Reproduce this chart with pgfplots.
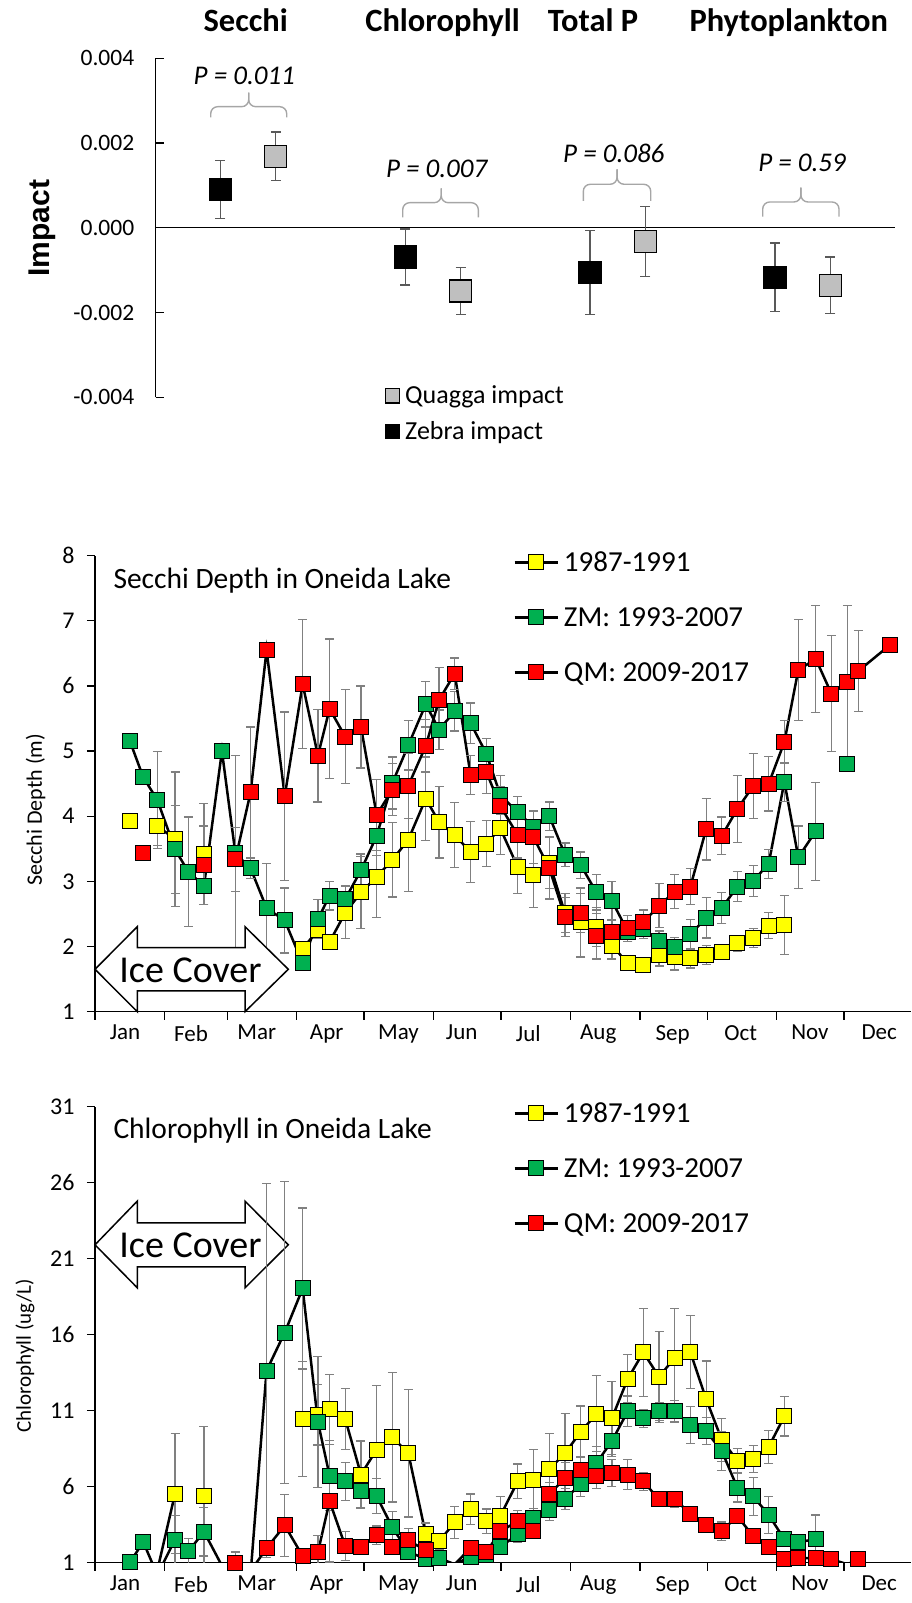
\documentclass[border=0pt]{standalone}
\usepackage{pgfplots}
\pgfplotsset{compat=1.18}
\usepackage{pgfplotstable}
\usepackage{fontspec}
\setmainfont{Carlito}
\newfontfamily\arialfont{Liberation Sans}
\definecolor{cy}{HTML}{FFFF00}
\definecolor{cg}{HTML}{00B050}
\definecolor{cr}{HTML}{FF0000}
\definecolor{eg}{HTML}{808080}
\definecolor{egd}{HTML}{595959}
\definecolor{qg}{HTML}{BFBFBF}
\definecolor{brc}{HTML}{A6A6A6}
\newcommand{\fs}[1]{\fontsize{#1}{#1}\selectfont}

\pgfplotstableread{
x y e
-0.15 0.000906 0.00068
0.85 -0.00069 0.00066
1.85 -0.00106 0.00099
2.85 -0.00117 0.00081
}\zebra
\pgfplotstableread{
x y e
0.15 0.00169 0.00057
1.15 -0.00149 0.00055
2.15 -0.00032 0.00083
3.15 -0.00136 0.00067
}\quagga

\pgfplotstableread{
x yy ye gy ge ry re
15.6 3.92 0.1 5.15 0.05 nan 0
21.5 nan 0 4.60 0.05 3.43 0.05
27.8 3.85 0.3 4.25 0.75 nan 0
35.7 3.65 1.03 3.49 0.67 nan 0
41.6 nan 0 3.15 0.84 nan 0
48.6 3.42 0.77 2.93 0.1 3.25 0.6
56.6 nan 0 5.00 0.05 nan 0
62.6 nan 0 3.43 1.5 3.34 0.49
69.4 nan 0 3.20 0.15 4.37 1.0
76.5 nan 0 2.59 0.69 6.55 0.05
84.6 nan 0 2.40 0.5 4.31 1.29
92.6 1.97 0.1 1.74 0.05 6.03 0.99
99.4 2.25 0.1 2.42 0.3 4.93 0.71
104.6 2.07 0.1 2.78 0.22 5.65 1.07
111.6 2.52 0.4 2.73 0.2 5.22 0.72
118.6 2.83 0.55 3.17 0.25 5.37 0.63
125.6 3.07 0.62 3.70 0.3 4.02 0.54
132.6 3.33 0.57 4.51 0.4 4.41 0.4
139.7 3.64 0.8 5.09 0.38 4.47 0.5
147.5 4.27 0.64 5.72 0.35 5.08 0.4
153.4 3.91 0.55 5.33 0.3 5.785 0.5
160.4 3.71 0.5 5.61 0.3 6.19 0.24
167.5 3.45 0.47 5.43 0.31 4.63 0.3
174.5 3.58 0.35 4.96 0.23 4.68 0.33
180.7 3.815 0.4 4.33 0.3 4.16 0.3
188.5 3.22 0.4 4.06 0.24 3.71 0.35
195.5 3.10 0.5 3.84 0.25 3.68 0.4
202.6 3.29 0.4 4.00 0.22 3.20 0.47
209.6 2.51 0.3 3.41 0.18 2.45 0.3
216.6 2.37 0.53 3.25 0.2 2.51 0.3
223.6 2.30 0.3 2.83 0.27 2.16 0.35
230.5 2.01 0.2 2.70 0.3 2.22 0.2
237.6 1.75 0.1 2.23 0.15 2.28 0.2
244.5 1.72 0.1 2.27 0.15 2.37 0.19
251.5 1.87 0.17 2.09 0.15 2.63 0.34
258.5 1.84 0.2 1.99 0.15 2.84 0.26
265.5 1.82 0.15 2.19 0.23 2.92 0.28
272.5 1.87 0.15 2.44 0.31 3.80 0.47
279.5 1.92 0.1 2.59 0.24 3.70 0.29
286.4 2.05 0.12 2.92 0.23 4.11 0.51
293.5 2.13 0.15 3.01 0.24 4.465 0.5
300.4 2.32 0.2 3.27 0.22 4.50 0.42
307.4 2.33 0.45 4.53 0.3 5.14 0.33
313.6 nan 0 3.37 0.48 6.245 0.77
321.4 nan 0 3.77 0.75 6.415 0.82
328.4 nan 0 nan 0 5.88 0.89
335.5 nan 0 4.80 0.05 6.06 1.17
340.4 nan 0 nan 0 6.23 0.62
354.5 nan 0 nan 0 6.63 0.05
}\secchi

\pgfplotstableread{
x yy ye gy ge ry re
15.6 nan 0 1.03 0.05 nan 0
21.5 nan 0 2.36 0.05 nan 0
27.8 0.5 0 0.2 0 nan 0
35.7 5.55 3.94 2.52 1.6 nan 0
41.6 nan 0 1.74 0.85 nan 0
48.6 5.37 4.58 3.04 1.6 nan 0
56.6 nan 0 0.8 0 nan 0
62.6 nan 0 0.2 0 1.0 0.7
69.4 nan 0 0.3 0 0.45 0
76.5 nan 0 13.64 12.3 1.95 0.2
84.6 nan 0 16.14 9.95 3.45 2.05
92.6 10.45 3.8 19.04 5.3 1.44 0.5
99.4 10.74 2.0 10.26 4.3 1.68 1.1
104.6 11.08 2.3 6.73 2.3 5.05 4.0
111.6 10.45 2.0 6.35 1.25 2.09 0.95
118.6 6.8 2.2 5.73 1.1 2.02 0.5
125.6 8.44 4.2 5.37 1.15 2.81 0.6
132.6 9.24 4.25 3.32 1.05 2.02 0.5
139.7 8.21 4.2 1.72 0.5 2.47 0.8
147.5 2.86 0.75 1.24 0.3 1.81 0.4
153.4 2.4 0.5 1.3 0.3 0.85 0
160.4 3.66 1.05 0.9 0 0.9 0
167.5 4.52 1.0 1.4 0.3 1.97 0.4
174.5 3.73 0.8 1.5 0.3 1.7 0.4
180.7 4.07 1.3 2.04 0.4 3.06 0.5
188.5 6.35 1.14 2.86 0.5 3.73 0.7
195.5 6.46 2.0 3.95 0.6 3.11 0.5
202.6 7.15 2.35 4.45 0.7 5.5 0.8
209.6 8.21 2.6 5.2 0.7 6.57 1.0
216.6 9.61 1.7 6.16 0.8 7.1 0.85
223.6 10.79 2.5 7.55 1.1 6.69 0.8
230.5 10.51 2.4 9.01 1.0 6.91 0.9
237.6 13.11 1.6 10.97 1.0 6.8 1.0
244.5 14.84 2.9 10.49 0.6 6.35 0.6
251.5 13.23 3.0 10.95 0.6 5.16 0.4
258.5 14.48 3.25 10.95 0.7 5.16 0.5
265.5 14.84 2.4 10.06 1.2 4.23 0.3
272.5 11.77 2.5 9.65 0.9 3.45 0.4
279.5 9.08 1.4 8.35 1.3 3.08 0.6
286.4 7.71 0.8 5.94 0.95 4.07 0.4
293.5 7.83 0.9 5.37 1.25 2.74 0.4
300.4 8.62 1.1 4.14 1.2 2.06 0.4
307.4 10.63 1.3 2.54 0.5 1.22 0.1
313.6 nan 0 2.36 0.5 1.3 0.1
321.4 nan 0 2.54 1.6 1.3 0.1
328.4 nan 0 nan 0 1.22 0.1
335.5 nan 0 nan 0 0.9 0
340.4 nan 0 nan 0 1.22 0.1
354.5 nan 0 nan 0 nan 0
}\chl

\newcommand{\series}[5]{%
  \addplot[black, line width=2.5pt, no markers, forget plot] table[x=x,y=#2]{#1};
  \addplot[only marks, mark=square*, mark size=7.5pt, mark options={fill=#4, draw=black, line width=1pt}, restrict y to domain=#5, forget plot, error bars/.cd, y dir=both, y explicit, error bar style={eg, line width=1.2pt}, error mark options={eg, line width=1.2pt, mark size=4.5pt, rotate=90}] table[x=x,y=#2,y error=#3]{#1};
}

\pgfplotsset{
  monthaxis/.style={
    scale only axis, anchor=south west, width=816.3pt, height=456pt,
    xmin=0, xmax=364,
    axis x line=bottom, axis y line=left, axis line style={-, line width=1.3pt},
    xtick={0,31,59,90,120,151,181,212,243,273,304,334}, xticklabels={},
    extra x ticks={13.4,42.8,72.1,103.3,135.3,163.5,193.2,224.4,257.6,287.9,318.8,349.7},
    extra x tick labels={Jan,Feb,Mar,Apr,May,Jun,Jul,Aug,Sep,Oct,Nov,Dec},
    extra x tick style={major tick length=0pt, xticklabel style={font=\fs{23}, yshift=-10pt}},
    tick align=outside, major tick length=8pt, tick style={black, line width=1.3pt},
    yticklabel style={font=\fs{24}, xshift=-9pt},
    unbounded coords=jump,
    legend style={draw=none, fill=none, inner sep=0pt, column sep=5pt, row sep=34pt, font=\fs{29}, nodes={inner sep=0pt, text height=20pt, text depth=1pt, anchor=west}},
    legend image code/.code={\draw[black, line width=2.5pt] (0pt,0pt) -- (43pt,0pt); \draw[##1] plot coordinates {(21.5pt,0pt)};},
    legend cell align=left,
  }
}

\begin{document}
\begin{tikzpicture}[x=1pt,y=1pt]
\useasboundingbox (0,0) rectangle (912,1603);

% ---------------- top panel ----------------
\begin{axis}[
  at={(155.7pt,1205.7pt)}, anchor=south west, scale only axis,
  width=739.3pt, height=339pt,
  xmin=-0.5, xmax=3.5, ymin=-0.004, ymax=0.004,
  axis x line=middle, axis y line=left, axis line style={-, line width=1.3pt},
  xtick=\empty,
  ytick={-0.004,-0.002,0,0.002,0.004},
  yticklabels={-0.004,-0.002,0.000,0.002,0.004},
  scaled y ticks=false,
  tick align=inside, major tick length=8pt, tick style={black, line width=1.3pt},
  yticklabel style={font=\fs{23.5}, xshift=-18pt},
  clip=false,
  legend style={at={(axis description cs:0.3102,0.0327)}, anchor=north west, draw=none, fill=none, inner sep=0pt, row sep=17.3pt, column sep=5.6pt, font=\fs{26}, nodes={inner sep=0pt, text height=17.5pt, text depth=1pt, anchor=west}},
  legend image code/.code={\draw[#1] plot coordinates {(7.5pt,0pt)};},
  legend cell align=left,
]
\addlegendimage{only marks, mark=square*, mark size=7.2pt, mark options={fill=qg, draw=black, line width=1.3pt}}
\addlegendentry{Quagga impact}
\addlegendimage{only marks, mark=square*, mark size=7.2pt, mark options={fill=black, draw=black, line width=1.3pt}}
\addlegendentry{Zebra impact}
\addplot[only marks, mark=square*, mark size=11pt, mark options={fill=black, draw=black, line width=1.3pt}, forget plot, error bars/.cd, y dir=both, y explicit, error bar style={egd, line width=1.3pt}, error mark options={egd, line width=1.3pt, mark size=5pt, rotate=90}] table[x=x,y=y,y error=e]{\zebra};
\addplot[only marks, mark=square*, mark size=11pt, mark options={fill=qg, draw=black, line width=1.3pt}, forget plot, error bars/.cd, y dir=both, y explicit, error bar style={egd, line width=1.3pt}, error mark options={egd, line width=1.3pt, mark size=5pt, rotate=90}] table[x=x,y=y,y error=e]{\quagga};
\end{axis}

% braces (annotation)
\begin{scope}[brc, line width=1.4pt, rounded corners=7pt]
\draw (210.7,1485.7) -- (210.7,1496.3) -- (248.7,1496.3) -- (248.7,1510.3);
\draw (286.7,1485.7) -- (286.7,1496.3) -- (248.7,1496.3) -- (248.7,1510.3);
\draw (402.7,1385.7) -- (402.7,1400.3) -- (441.2,1400.3) -- (441.2,1414.7);
\draw (478.3,1385.7) -- (478.3,1400.3) -- (441.2,1400.3) -- (441.2,1414.7);
\draw (583.3,1402) -- (583.3,1418.7) -- (617.1,1418.7) -- (617.1,1433.7);
\draw (650.7,1402) -- (650.7,1418.7) -- (617.1,1418.7) -- (617.1,1433.7);
\draw (762.7,1386.3) -- (762.7,1401) -- (800.9,1401) -- (800.9,1415.3);
\draw (839,1386.3) -- (839,1401) -- (800.9,1401) -- (800.9,1415.3);
\end{scope}

\node[anchor=base, font=\bfseries\fs{32.5}] at (245.7,1571.3) {Secchi};
\node[anchor=base, font=\bfseries\fs{32.5}] at (442.5,1571.3) {Chlorophyll};
\node[anchor=base, font=\bfseries\fs{32.5}] at (593,1571.3) {Total P};
\node[anchor=base, font=\bfseries\fs{32.5}] at (788.7,1571.3) {Phytoplankton};
\node[font=\itshape\fs{27}] at (244.3,1526.8) {P = 0.011};
\node[font=\itshape\fs{27}] at (436.7,1433.8) {P = 0.007};
\node[font=\itshape\fs{27}] at (613.8,1449.2) {P = 0.086};
\node[font=\itshape\fs{27}] at (802,1440.2) {P = 0.59};
\node[rotate=90, font=\arialfont\bfseries\fs{30}] at (42,1374.7) {Impact};

% ---------------- middle panel ----------------
\begin{axis}[monthaxis,
  at={(95pt,591.3pt)}, ymin=1, ymax=8,
  ytick={1,2,3,4,5,6,7,8}, yticklabels={1,2,3,4,5,6,7,8},
  legend style={at={(axis description cs:0.5124,1.0089)}, anchor=north west},
]
\addlegendimage{mark=square*, mark size=7.5pt, mark options={fill=cy, draw=black, line width=1pt}}
\addlegendentry{1987-1991}
\addlegendimage{mark=square*, mark size=7.5pt, mark options={fill=cg, draw=black, line width=1pt}}
\addlegendentry{ZM: 1993-2007}
\addlegendimage{mark=square*, mark size=7.5pt, mark options={fill=cr, draw=black, line width=1pt}}
\addlegendentry{QM: 2009-2017}
\series{\secchi}{yy}{ye}{cy}{0:20}
\series{\secchi}{gy}{ge}{cg}{0:20}
\series{\secchi}{ry}{re}{cr}{0:20}
\end{axis}
\node[anchor=base west, inner sep=0pt, font=\fs{29.5}] at (113.3,1014.7) {Secchi Depth in Oneida Lake};
\node[rotate=90, font=\fs{22}] at (35.5,793) {Secchi Depth (m)};
\draw[black, line width=1.5pt, fill=white] (95,633.7) -- (137.3,676.3) -- (137.3,655.3) -- (245,655.3) -- (245,676.3) -- (288.3,633.7) -- (245,591.3) -- (245,612) -- (137.3,612) -- (137.3,591.3) -- cycle;
\node[font=\fs{38}] at (190.5,633) {Ice Cover};

% ---------------- bottom panel ----------------
\draw[black, line width=1.5pt, fill=white] (95,358.2) -- (137.3,401.9) -- (137.3,380) -- (245,380) -- (245,401.9) -- (288.3,358.2) -- (245,315.2) -- (245,336) -- (137.3,336) -- (137.3,315.2) -- cycle;
\node[font=\fs{38}] at (190.5,358) {Ice Cover};
\begin{axis}[monthaxis,
  at={(95pt,40.3pt)}, ymin=1, ymax=31,
  ytick={1,6,11,16,21,26,31}, yticklabels={1,6,11,16,21,26,31},
  legend style={at={(axis description cs:0.5124,1.0089)}, anchor=north west},
]
\addlegendimage{mark=square*, mark size=7.5pt, mark options={fill=cy, draw=black, line width=1pt}}
\addlegendentry{1987-1991}
\addlegendimage{mark=square*, mark size=7.5pt, mark options={fill=cg, draw=black, line width=1pt}}
\addlegendentry{ZM: 1993-2007}
\addlegendimage{mark=square*, mark size=7.5pt, mark options={fill=cr, draw=black, line width=1pt}}
\addlegendentry{QM: 2009-2017}
\series{\chl}{yy}{ye}{cy}{0.95:40}
\series{\chl}{gy}{ge}{cg}{0.95:40}
\series{\chl}{ry}{re}{cr}{0.95:40}
\end{axis}
\node[anchor=base west, inner sep=0pt, font=\fs{29.5}] at (113.3,464) {Chlorophyll in Oneida Lake};
\node[rotate=90, font=\fs{21}] at (25,247) {Chlorophyll (ug/L)};
\end{tikzpicture}
\end{document}
